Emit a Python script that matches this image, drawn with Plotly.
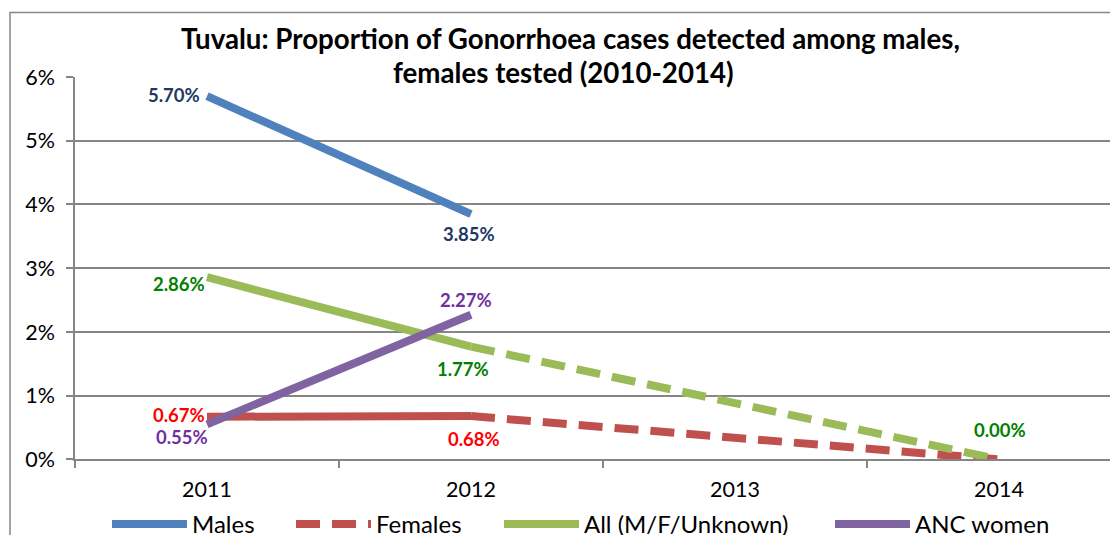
import plotly.graph_objects as go

years = ["2011", "2012", "2013", "2014"]
males = [5.70, 3.85, None, None]
females = [0.67, 0.68, None, 0.00]
all_mfu = [2.86, 1.77, None, 0.00]
anc = [0.55, 2.27, None, None]
series_names = ["Males", "Females", "All (M/F/Unknown)", "ANC women"]
title_lines = ["Tuvalu: Proportion of Gonorrhoea cases detected among males,",
               "females tested (2010-2014)"]
y_ticks = [0, 1, 2, 3, 4, 5, 6]

C_BLUE, C_RED, C_GREEN, C_PURPLE = "#4F81BD", "#C0504D", "#9BBB59", "#8064A2"
L_BLUE, L_RED, L_GREEN, L_PURPLE = "#1F3864", "#FF0000", "#008000", "#7030A0"
FONT = "Lato"
LW = 8
DASH = "24px,12px"

# The page body has an 8px margin, so the figure is sized to fit the window
FIG_W, FIG_H = 1110, 527
PL, PT, PB = 67, 69, 454          # plot left / top / bottom in figure px
W_PLOT = FIG_W - PL
H_PLOT = PB - PT

fig = go.Figure()
fig.add_trace(go.Scatter(x=years[:2], y=males[:2], mode="lines", name=series_names[0],
                         legend="legend", line=dict(color=C_BLUE, width=LW)))
fig.add_trace(go.Scatter(x=years[:2], y=females[:2], mode="lines", name=series_names[1],
                         showlegend=False, line=dict(color=C_RED, width=LW)))
fig.add_trace(go.Scatter(x=years[1:], y=females[1:], mode="lines", name=series_names[1],
                         legend="legend2", connectgaps=True,
                         line=dict(color=C_RED, width=LW, dash=DASH)))
fig.add_trace(go.Scatter(x=years[:2], y=all_mfu[:2], mode="lines", name=series_names[2],
                         legend="legend3", line=dict(color=C_GREEN, width=LW)))
fig.add_trace(go.Scatter(x=years[1:], y=all_mfu[1:], mode="lines", name=series_names[2],
                         showlegend=False, connectgaps=True,
                         line=dict(color=C_GREEN, width=LW, dash=DASH)))
fig.add_trace(go.Scatter(x=years[:2], y=anc[:2], mode="lines", name=series_names[3],
                         legend="legend4", line=dict(color=C_PURPLE, width=LW)))

# data labels: (series values, index, color, xanchor, xshift, yshift)
label_specs = [
    (males, 0, L_BLUE, "right", -5, 1),
    (males, 1, L_BLUE, "center", -2, -20),
    (all_mfu, 0, L_GREEN, "right", 0, -7),
    (all_mfu, 1, L_GREEN, "center", -8, -22),
    (all_mfu, 3, L_GREEN, "center", 1, 29),
    (females, 0, L_RED, "right", 0, 2),
    (females, 1, L_RED, "center", 3, -23),
    (anc, 0, L_PURPLE, "right", 3, -13),
    (anc, 1, L_PURPLE, "center", -5, 15),
]
for vals, i, col, xa, xs, ys in label_specs:
    fig.add_annotation(x=i, y=vals[i], xref="x", yref="y",
                       text=f"<b>{vals[i]:.2f}%</b>", showarrow=False,
                       xanchor=xa, yanchor="middle", xshift=xs, yshift=ys,
                       font=dict(family=FONT, size=18.5, color=col))

# Title as two centred lines
fig.add_annotation(xref="paper", yref="paper", x=(562 - PL) / W_PLOT, y=(PB - 30) / H_PLOT,
                   text=f"<b>{title_lines[0]}</b>", showarrow=False,
                   xanchor="center", yanchor="middle",
                   font=dict(family=FONT, size=27.7, color="#000000"))
fig.add_annotation(xref="paper", yref="paper", x=(555 - PL) / W_PLOT, y=(PB - 64) / H_PLOT,
                   text=f"<b>{title_lines[1]}</b>", showarrow=False,
                   xanchor="center", yanchor="middle",
                   font=dict(family=FONT, size=27.7, color="#000000"))

# Outer chart border (cut off at right and bottom as in the reference)
fig.add_shape(type="rect", xref="paper", yref="paper",
              x0=(2 - PL) / W_PLOT, y0=-0.5, x1=1.2, y1=(PB - 4) / H_PLOT,
              line=dict(color="#868686", width=1.5), fillcolor="rgba(0,0,0,0)", layer="below")

legend_font = dict(family=FONT, size=24, color="#000000")
def legend_at(sym_x):
    return dict(orientation="h", xref="container", yref="container",
                xanchor="left", yanchor="top",
                x=(sym_x - 5) / FIG_W, y=1 - 494 / FIG_H,
                font=legend_font, itemwidth=75, bgcolor="rgba(0,0,0,0)")

tick_font = dict(family=FONT, size=21.5, color="#000000")
fig.update_layout(
    width=FIG_W, height=FIG_H,
    margin=dict(l=PL, r=0, t=PT, b=FIG_H - PB),
    paper_bgcolor="white", plot_bgcolor="white",
    font=dict(family=FONT, color="#000000"),
    showlegend=True,
    legend=legend_at(104),
    legend2=legend_at(288),
    legend3=legend_at(496),
    legend4=legend_at(827),
    xaxis=dict(type="category", categoryorder="array", categoryarray=years,
               range=[-0.5, -0.5 + W_PLOT / 264], showgrid=False, tickson="boundaries",
               ticks="outside", ticklen=7, tickcolor="#868686", tickwidth=1.5,
               showline=True, linecolor="#868686", linewidth=1.5,
               ticklabelstandoff=10, tickfont=tick_font, fixedrange=True),
    yaxis=dict(range=[0, 6], tickvals=y_ticks, ticktext=[f"{t}%" for t in y_ticks],
               showgrid=True, gridcolor="#868686", gridwidth=1.5, zeroline=False,
               ticks="outside", ticklen=7, tickcolor="#868686", tickwidth=1.5,
               showline=True, linecolor="#868686", linewidth=1.5,
               ticklabelstandoff=7, tickfont=tick_font, fixedrange=True),
)

fig.write_html("out.html")
